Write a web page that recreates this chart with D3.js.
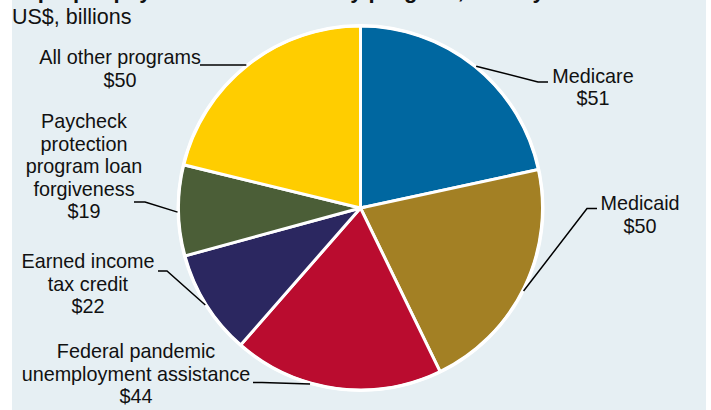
<!DOCTYPE html>
<html>
<head>
<meta charset="utf-8">
<script src="https://cdn.jsdelivr.net/npm/d3@7"></script>
<style>
  html, body { margin: 0; padding: 0; background: #ffffff; }
  svg { display: block; }
  text { font-family: "Liberation Sans", Arial, sans-serif; fill: #111; }
</style>
</head>
<body>
<div id="chart"></div>
<script>
// ---- data ----
const titleText = "Improper payments in FY 2021 by program, fiscal year";
const subtitleText = "US$, billions";
const categories = [
  "Medicare",
  "Medicaid",
  "Federal pandemic unemployment assistance",
  "Earned income tax credit",
  "Paycheck protection program loan forgiveness",
  "All other programs"
];
const values = [51, 50, 44, 22, 19, 50];
const labelLines = [
  ["Medicare"],
  ["Medicaid"],
  ["Federal pandemic", "unemployment assistance"],
  ["Earned income", "tax credit"],
  ["Paycheck", "protection", "program loan", "forgiveness"],
  ["All other programs"]
];
const colors = ["#0067a0", "#a38024", "#ba0c2f", "#2b2760", "#4b5e37", "#ffcd00"];

// ---- layout (not data) ----
const W = 711, H = 410;
const cx = 360.5, cy = 208, R = 182;
const lineH = 22.5;
const labelLayout = [
  { x: 593, y: 82.5, ang: 39.2, pts: [[538, 82], [548, 82]] },
  { x: 640, y: 210, ang: 117, pts: [[587, 208.5], [597, 208.5]] },
  { x: 136, y: 358, ang: 196, pts: [[262, 382.5], [253, 382.5]] },
  { x: 88, y: 268, ang: 238, pts: [[167, 271], [158, 271]] },
  { x: 84, y: 128, ang: 268.7, pts: [[145, 202], [134, 202]] },
  { x: 120, y: 64, ang: 321.4, pts: [[200, 65]] }
];

const svg = d3.select("#chart").append("svg")
  .attr("width", W).attr("height", H);

svg.append("rect").attr("x", 12).attr("y", 0).attr("width", 694).attr("height", H)
  .attr("fill", "#e6eff3");

// title (cut off at the top edge, as in the reference) and subtitle
svg.append("text").attr("x", 12).attr("y", -2.5)
  .style("font-size", "22px").style("font-weight", "bold")
  .text(titleText);
svg.append("text").attr("x", 12).attr("y", 24)
  .style("font-size", "21.5px")
  .text(subtitleText);

// pie
const pie = d3.pie().sort(null).value(d => d)(values);
const arc = d3.arc().innerRadius(0).outerRadius(R);
const g = svg.append("g").attr("transform", `translate(${cx},${cy})`);
g.selectAll("path.slice").data(pie).enter().append("path")
  .attr("class", "slice")
  .attr("d", arc)
  .attr("fill", (d, i) => colors[i])
  .attr("stroke", "#ffffff")
  .attr("stroke-width", 3)
  .attr("stroke-linejoin", "miter");
g.append("circle").attr("r", R + 0.5).attr("fill", "none")
  .attr("stroke", "#ffffff").attr("stroke-width", 3);

// leaders
const line = d3.line();
labelLayout.forEach((L, i) => {
  const p = d3.pointRadial(L.ang * Math.PI / 180, R + 1);
  const start = [cx + p[0], cy + p[1]];
  svg.append("path")
    .attr("d", line([start, ...L.pts]))
    .attr("fill", "none").attr("stroke", "#000").attr("stroke-width", 1.5);
});

// labels
labelLayout.forEach((L, i) => {
  const lines = labelLines[i].concat(["$" + values[i]]);
  const t = svg.append("text")
    .attr("text-anchor", "middle")
    .style("font-size", "19.8px");
  lines.forEach((s, k) => {
    t.append("tspan").attr("x", L.x).attr("y", L.y + k * lineH).text(s);
  });
});
</script>
</body>
</html>
